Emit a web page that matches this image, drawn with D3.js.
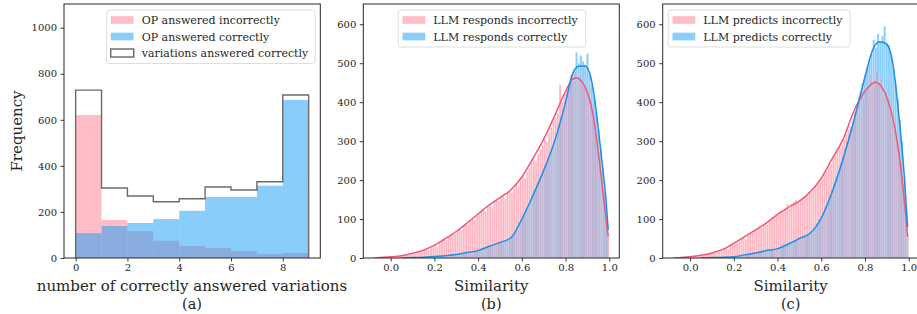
<!DOCTYPE html>
<html><head><meta charset="utf-8">
<script src="https://cdn.jsdelivr.net/npm/d3@7"></script>
<style>
body{margin:0;background:#fff}
svg text{font-family:"DejaVu Serif",serif;fill:#262626}
</style></head><body>
<svg id="chart" width="917" height="314"></svg>
<script>
// ---- (a) number of correctly answered variations, bins 0..8
const countBins = [0,1,2,3,4,5,6,7,8]
const opWrong = [621,165,117,75,52,43,30,17,22]
const opRight = [108,139,152,169,205,265,265,314,686]

// ---- (b),(c) similarity histograms, bin width 0.01
const binW = 0.01
const wrongStart = -0.08   // first edge of the "incorrectly" bins
const rightStart = -0.005  // first edge of the "correctly" bins

const respWrong = [1,0,1,2,1,2,3,2,
  3,4,3,5,6,5,7,8,9,10,
  12,11,14,15,17,20,22,19,27,30,
  33,30,42,48,52,46,55,60,64,62,
  68,75,72,82,88,85,96,100,98,108,
  112,118,124,120,132,138,130,148,150,146,
  155,160,152,165,172,168,178,190,184,200,
  210,205,222,230,245,255,248,268,280,290,
  305,300,322,335,350,362,372,445,400,420,
  430,440,470,455,480,462,470,445,440,430,
  418,395,365,330,290,250,210,165,120,60]
const respRight = [0,0,0,0,0,1,0,1,1,1,
  1,1,2,1,2,2,3,2,3,4,
  4,5,4,6,8,6,7,6,8,9,
  9,10,11,12,13,14,15,14,17,18,
  19,20,24,26,28,31,33,35,37,38,
  40,42,44,46,48,52,58,70,82,92,
  100,112,124,136,148,160,172,186,198,212,
  225,240,255,270,285,300,320,340,362,380,
  400,425,450,470,480,528,500,520,505,495,
  525,470,445,415,375,330,280,230,170,90]
const predWrong = [1,0,1,1,2,1,2,3,
  3,4,4,5,6,7,8,9,10,12,
  13,14,16,18,20,24,26,22,32,35,
  38,40,44,50,52,48,58,62,66,70,
  72,80,78,84,88,86,95,98,104,108,
  110,122,118,125,138,128,140,145,150,142,
  148,152,158,162,170,168,178,188,195,200,
  205,215,222,235,240,255,262,275,285,292,
  305,318,330,338,352,375,380,415,430,410,
  428,440,470,445,460,480,450,462,420,430,
  412,385,360,330,300,275,235,190,140,60]
const predRight = [0,0,0,0,0,1,1,0,1,1,
  1,1,2,2,2,2,3,2,3,3,
  4,5,6,7,8,9,10,11,12,12,
  13,14,15,16,17,18,19,20,21,22,
  24,26,28,30,34,38,42,44,46,48,
  50,52,54,56,60,63,70,80,90,100,
  108,120,134,148,162,176,192,210,225,245,
  262,280,298,315,335,355,375,400,425,449,
  470,490,510,525,560,540,575,555,570,595,
  550,545,520,490,450,410,354,300,209,100]

// kde curves [similarity, count]
const respWrongKde = [[-0.075,0],[0,3],[0.05,6],[0.1,12],[0.15,20],[0.2,33],[0.25,50],[0.3,68],[0.35,90],[0.4,113],[0.45,136],[0.5,155],[0.55,175],[0.6,208],[0.65,255],[0.7,305],[0.75,365],[0.8,428],[0.83,458],[0.85,463],[0.875,452],[0.9,425],[0.925,370],[0.95,270],[0.975,150],[0.995,56]]
const respRightKde = [[0.05,0],[0.1,1],[0.15,2],[0.2,4],[0.25,6],[0.3,9],[0.35,14],[0.4,19],[0.45,30],[0.5,40],[0.55,52],[0.6,100],[0.65,160],[0.7,225],[0.75,300],[0.8,400],[0.83,470],[0.86,492],[0.89,493],[0.91,475],[0.93,420],[0.95,330],[0.97,230],[0.985,150],[0.995,72]]
const predWrongKde = [[-0.075,0],[0,3],[0.05,7],[0.1,13],[0.15,22],[0.2,38],[0.25,55],[0.3,72],[0.35,90],[0.4,112],[0.45,130],[0.5,146],[0.55,170],[0.6,205],[0.65,255],[0.7,305],[0.75,378],[0.8,428],[0.85,451],[0.875,440],[0.9,412],[0.925,365],[0.95,290],[0.975,175],[0.995,55]]
const predRightKde = [[0.05,0],[0.1,1],[0.2,3],[0.25,8],[0.3,13],[0.35,19],[0.4,24],[0.45,36],[0.5,50],[0.55,64],[0.6,102],[0.65,170],[0.7,255],[0.75,355],[0.8,465],[0.835,534],[0.866,555],[0.897,550],[0.927,500],[0.957,354],[0.98,209],[0.995,80]]

const ticksA = [0,2,4,6,8]
const yTicksA = [0,200,400,600,800,1000]
const ticksSim = [0,0.2,0.4,0.6,0.8,1.0]
const yTicksSim = [0,100,200,300,400,500,600]

const pinkBase = 'rgb(255,123,145)', blueBase = 'rgb(19,155,245)'
const redLine = '#f2577a', blueLine = '#1e8fe6'

const svg = d3.select('#chart')
const yTop = 4, yBottom = 258

function frame(g, x, y, xt, yt, fmt) {
	g.append('g').attr('transform', `translate(0,${yBottom})`)
		.call(d3.axisBottom(x).tickValues(xt).tickSize(3.5).tickPadding(2).tickFormat(fmt))
	g.append('g').attr('transform', `translate(${x.range()[0]},0)`)
		.call(d3.axisLeft(y).tickValues(yt).tickSize(3.5).tickPadding(3.5).tickFormat(d3.format('d')))
	g.selectAll('.domain').remove()
	g.selectAll('.tick line').attr('stroke', '#262626').attr('stroke-width', 0.9)
	g.selectAll('.tick text').attr('font-size', 10).attr('font-family', 'DejaVu Serif').attr('fill', '#262626')
	let [x0, x1] = x.range()
	g.append('rect').attr('x', x0).attr('y', yTop).attr('width', x1 - x0).attr('height', yBottom - yTop)
		.attr('fill', 'none').attr('stroke', '#262626').attr('stroke-width', 1)
}

function legend(g, x, y, w, items) {
	let h = items.length * 16.5 + 4
	g.append('rect').attr('x', x).attr('y', y).attr('width', w).attr('height', h).attr('rx', 2.5)
		.attr('fill', '#fff').attr('fill-opacity', 0.85).attr('stroke', '#d5d5d5').attr('stroke-width', 0.8)
	items.forEach((it, i) => {
		let cy = y + 10 + i * 16.5
		let r = g.append('rect').attr('x', x + 4).attr('y', cy - 4).attr('width', 23).attr('height', 8)
		if (it.outline) r.attr('fill', '#fff').attr('stroke', '#666').attr('stroke-width', 1.4)
		else r.attr('fill', it.color).attr('fill-opacity', 0.5).attr('stroke', '#fff').attr('stroke-opacity', 0.5).attr('stroke-width', 0.6)
		g.append('text').attr('x', x + 35).attr('y', cy + 4).attr('font-size', 11).text(it.label)
	})
}

// ---------- panel (a)
{
	let g = svg.append('g')
	let x = d3.scaleLinear().domain([-0.45, 9.45]).range([64, 320.3])
	let y = d3.scaleLinear().domain([0, 1103]).range([yBottom, yTop])
	g.selectAll('rect.pink').data(countBins).join('rect')
		.attr('x', d => x(d)).attr('width', d => x(d + 1) - x(d))
		.attr('y', (d, i) => y(opWrong[i])).attr('height', (d, i) => yBottom - y(opWrong[i]))
		.attr('fill', pinkBase).attr('fill-opacity', 0.5)
	g.selectAll('rect.blue').data(countBins).join('rect')
		.attr('x', d => x(d)).attr('width', d => x(d + 1) - x(d))
		.attr('y', (d, i) => y(opRight[i])).attr('height', (d, i) => yBottom - y(opRight[i]))
		.attr('fill', blueBase).attr('fill-opacity', 0.5)
	// step outline of all variations answered correctly
	let pts = [[0, 0]]
	countBins.forEach((d, i) => {
		let v = opWrong[i] + opRight[i]
		pts.push([d, v], [d + 1, v])
	})
	pts.push([9, 0])
	g.append('path').attr('d', d3.line().x(p => x(p[0])).y(p => y(p[1]))(pts))
		.attr('fill', 'none').attr('stroke', '#6b6b6b').attr('stroke-width', 1.4)
	frame(g, x, y, ticksA, yTicksA, d3.format('d'))
	g.append('text').attr('transform', 'translate(22,131) rotate(-90)').attr('text-anchor', 'middle')
		.attr('font-size', 15).text('Frequency')
	g.append('text').attr('x', 192).attr('y', 290.5).attr('text-anchor', 'middle').attr('font-size', 15)
		.text('number of correctly answered variations')
	g.append('text').attr('x', 192).attr('y', 309).attr('text-anchor', 'middle').attr('font-size', 14.5).text('(a)')
	legend(g, 106.7, 10, 208.5, [
		{color: pinkBase, label: 'OP answered incorrectly'},
		{color: blueBase, label: 'OP answered correctly'},
		{outline: true, label: 'variations answered correctly'}])
}

// ---------- panels (b),(c)
function simPanel(left, wrong, right, wrongKde, rightKde, labels, tag, legX, legW) {
	let g = svg.append('g')
	let x = d3.scaleLinear().domain([-0.1253, 1.0457]).range([left, left + 256])
	let y = d3.scaleLinear().domain([0, 652]).range([yBottom, yTop])
	g.append('clipPath').attr('id', 'clip' + tag).append('rect')
		.attr('x', left).attr('y', yTop).attr('width', 256).attr('height', yBottom - yTop)
	let p = g.append('g').attr('clip-path', `url(#clip${tag})`)
	let bars = (vals, start, color, op) => p.append('g').selectAll('rect').data(vals).join('rect')
		.attr('x', (d, i) => x(start + i * binW)).attr('width', (d, i) => x(start + (i + 1) * binW) - x(start + i * binW))
		.attr('y', d => y(d)).attr('height', d => yBottom - y(d))
		.attr('fill', color).attr('fill-opacity', op)
		.attr('stroke', '#fff').attr('stroke-opacity', 0.45).attr('stroke-width', 0.45)
	// the two layers of bars overlap: pink under, blue, then a light pink glaze
	bars(wrong, wrongStart, pinkBase, 0.4)
	bars(right, rightStart, blueBase, 0.5)
	bars(wrong, wrongStart, pinkBase, 0.25)
	let line = d3.line().x(d => x(d[0])).y(d => y(d[1])).curve(d3.curveMonotoneX)
	p.append('path').attr('d', line(wrongKde)).attr('fill', 'none').attr('stroke', redLine).attr('stroke-width', 1.5)
	p.append('path').attr('d', line(rightKde)).attr('fill', 'none').attr('stroke', blueLine).attr('stroke-width', 1.5)
	frame(g, x, y, ticksSim, yTicksSim, d3.format('.1f'))
	let cx = x(0.46)
	g.append('text').attr('x', cx).attr('y', 290.5).attr('text-anchor', 'middle').attr('font-size', 15).text('Similarity')
	g.append('text').attr('x', cx).attr('y', 309).attr('text-anchor', 'middle').attr('font-size', 14.5).text(`(${tag})`)
	legend(g, legX, 10, legW, [
		{color: pinkBase, label: labels[0]},
		{color: blueBase, label: labels[1]}])
}

simPanel(363.3, respWrong, respRight, respWrongKde, respRightKde,
	['LLM responds incorrectly', 'LLM responds correctly'], 'b', 398.3, 187.4)
simPanel(662.7, predWrong, predRight, predWrongKde, predRightKde,
	['LLM predicts incorrectly', 'LLM predicts correctly'], 'c', 668.3, 181.7)
</script>
</body></html>
